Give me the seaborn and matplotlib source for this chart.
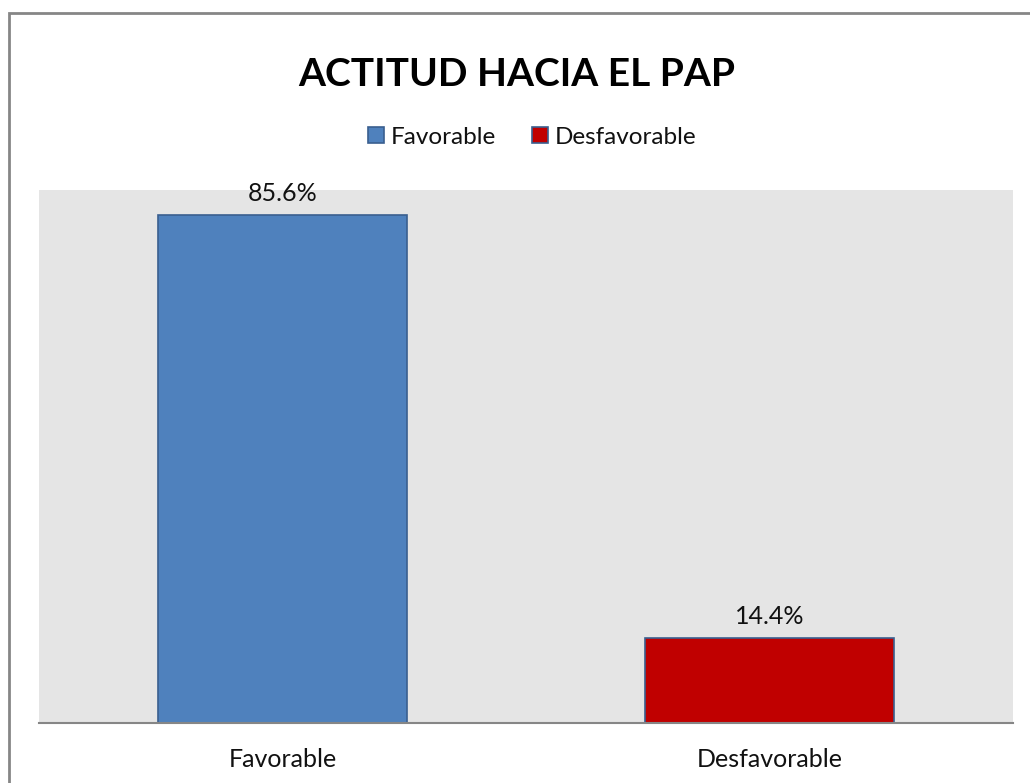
import numpy as np
import matplotlib
matplotlib.use("Agg")
import matplotlib.pyplot as plt
import seaborn as sns
from matplotlib.patches import Rectangle
from matplotlib.lines import Line2D

categories = ["Favorable", "Desfavorable"]
values = [85.6, 14.4]
labels = ["85.6%", "14.4%"]
colors = ["#4F81BD", "#C00000"]
title = "ACTITUD HACIA EL PAP"

sns.set_style("white")
plt.rcParams['font.family'] = ['Lato', 'DejaVu Sans']

fig = plt.figure(figsize=(10.3, 7.83), dpi=100)
ax = fig.add_axes([39/1030, 60/783, 974/1030, 533/783])

sns.barplot(x=categories, y=values, hue=categories, palette=colors,
            width=0.513, dodge=False, legend=False, ax=ax,
            edgecolor="#3A5F8F", linewidth=1.2, saturation=1)

ax.set_facecolor("#E5E5E5")
ax.set_ylim(0, 89.8)
ax.set_xlim(-0.5, 1.5)
ax.set_yticks([])
ax.set_xlabel("")
ax.set_ylabel("")
for s in ["top", "right", "left"]:
    ax.spines[s].set_visible(False)
ax.spines["bottom"].set_color("#868686")
ax.spines["bottom"].set_linewidth(1.5)
ax.tick_params(axis="x", length=0, labelsize=18, pad=18, labelcolor="#111111")

for i, (v, lab) in enumerate(zip(values, labels)):
    ax.text(i, v + 1.6, lab, ha="center", va="bottom", fontsize=18, color="#111111")

fig.text(517/1030, 1 - 74/783, title, ha="center", va="center",
         fontsize=28, fontweight="bold", color="black")

handles = [Line2D([], [], marker="s", linestyle="", markersize=12,
                  markerfacecolor=c, markeredgecolor="#3A5F8F", markeredgewidth=1.2)
           for c in colors]
fig.legend(handles, categories, loc="center", bbox_to_anchor=(530/1030, 1 - 137/783),
           ncol=2, frameon=False, fontsize=17.5, handletextpad=0.1, columnspacing=1.3,
           handlelength=1.0, labelcolor="#111111")

fig.add_artist(Rectangle((9/1030, -0.1), 1.2, 1 - 13/783 + 0.1, transform=fig.transFigure,
                         fill=False, edgecolor="#868686", linewidth=2))

fig.savefig("out.png", dpi=100)
